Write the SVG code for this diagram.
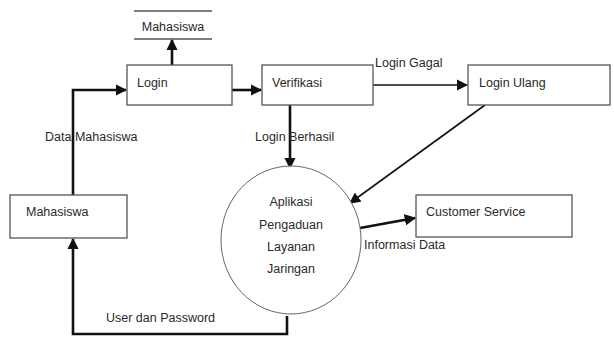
<svg xmlns="http://www.w3.org/2000/svg" width="614" height="338" viewBox="0 0 614 338">
<style>
.box{fill:#fff;stroke:#555;stroke-width:1.3}
.t{font-family:"Liberation Sans",Arial,sans-serif;font-size:12.5px;fill:#2a2a2a}
.c{stroke:#111;fill:none}
.th{stroke-width:2.6}
.tn{stroke-width:1.6}
</style>
<defs>
<marker id="ah" viewBox="0 0 10 10" refX="9" refY="5" markerWidth="4.4" markerHeight="4.4" orient="auto" markerUnits="strokeWidth"><path d="M0,0 L10,5 L0,10 z" fill="#111"/></marker>
<marker id="ah2" viewBox="0 0 10 10" refX="9" refY="5" markerWidth="7" markerHeight="7" orient="auto" markerUnits="strokeWidth"><path d="M0,0 L10,5 L0,10 z" fill="#111"/></marker>
</defs>
<rect width="614" height="338" fill="#fff"/>
<g id="connectors">
<path class="c th" d="M172,65 V40" marker-end="url(#ah)"/>
<path class="c th" d="M73,195 V90 H126" marker-end="url(#ah)"/>
<path class="c th" d="M232,90 H261" marker-end="url(#ah)"/>
<path class="c th" d="M290,105 V168" marker-end="url(#ah)"/>
<path class="c tn" d="M373,85 H467" marker-end="url(#ah2)"/>
<path class="c tn" d="M485,105 L350,203" marker-end="url(#ah2)"/>
<path class="c th" d="M360,228 L415,218" marker-end="url(#ah)"/>
<path class="c th" d="M287,316 V334 H73 V239" marker-end="url(#ah)"/>
<text class="t" x="45" y="141">Data Mahasiswa</text>
<text class="t" x="255" y="141">Login Berhasil</text>
<text class="t" x="375" y="67">Login Gagal</text>
<text class="t" x="364" y="249">Informasi Data</text>
<text class="t" x="106" y="322">User dan Password</text>
</g>
<g id="store-mahasiswa">
<path d="M134,11 H212 M134,39 H212" stroke="#555" stroke-width="1.3"/>
<text class="t" x="173" y="31" text-anchor="middle">Mahasiswa</text>
</g>
<g id="login">
<rect class="box" x="127" y="65" width="105" height="40"/>
<text class="t" x="137" y="87">Login</text>
</g>
<g id="verifikasi">
<rect class="box" x="262" y="65" width="111" height="40"/>
<text class="t" x="272" y="87">Verifikasi</text>
</g>
<g id="login-ulang">
<rect class="box" x="468" y="65" width="142" height="40"/>
<text class="t" x="479" y="87">Login Ulang</text>
</g>
<g id="mahasiswa">
<rect class="box" x="10" y="195" width="117" height="43"/>
<text class="t" x="26" y="216">Mahasiswa</text>
</g>
<g id="aplikasi">
<ellipse cx="291" cy="240" rx="70" ry="74" fill="#fff" stroke="#666" stroke-width="1"/>
<text class="t" x="291" y="206" text-anchor="middle">Aplikasi</text>
<text class="t" x="291" y="229" text-anchor="middle">Pengaduan</text>
<text class="t" x="291" y="251" text-anchor="middle">Layanan</text>
<text class="t" x="291" y="273" text-anchor="middle">Jaringan</text>
</g>
<g id="customer-service">
<rect class="box" x="416" y="195" width="156" height="42"/>
<text class="t" x="426" y="216">Customer Service</text>
</g>
</svg>
